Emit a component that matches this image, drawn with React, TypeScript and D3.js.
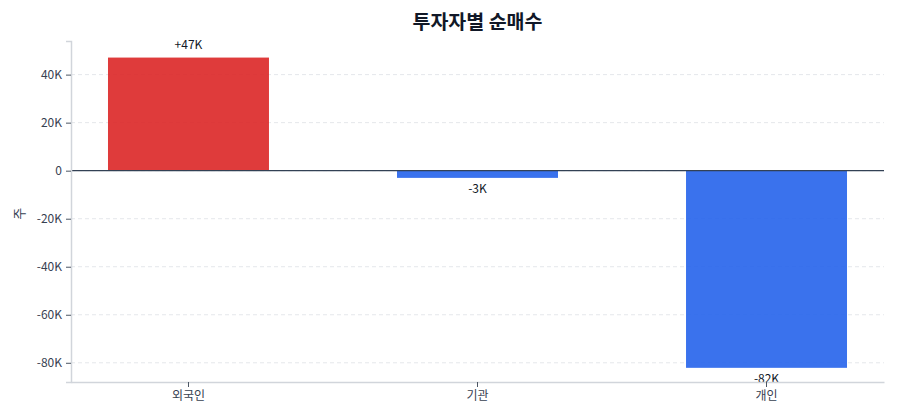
import { useEffect, useRef } from "react";
import * as d3 from "d3";

const investors = ["외국인", "기관", "개인"];
const netBuy = [47100, -3000, -82100];
const valueLabels = ["+47K", "-3K", "-82K"];
const yTicks = [-80000, -60000, -40000, -20000, 0, 20000, 40000];

const FONT = "'Noto Sans CJK KR', 'Noto Sans', sans-serif";

export default function App() {
  const ref = useRef<SVGSVGElement>(null);

  useEffect(() => {
    const svg = d3.select(ref.current);
    svg.selectAll("*").remove();

    const margin = { top: 41, right: 16, bottom: 38, left: 71 };
    const width = 900 - margin.left - margin.right;
    const height = 420 - margin.top - margin.bottom;

    const g = svg
      .append("g")
      .attr("transform", `translate(${margin.left},${margin.top})`);

    const x = d3
      .scaleBand()
      .domain(investors)
      .range([0, width])
      .paddingInner(0.443)
      .paddingOuter(0.128);

    const y = d3.scaleLinear().domain([-88000, 54000]).range([height, 0]);

    // grid lines
    g.append("g")
      .selectAll("line")
      .data(yTicks)
      .enter()
      .append("line")
      .attr("x1", 0)
      .attr("x2", width)
      .attr("y1", (d) => y(d))
      .attr("y2", (d) => y(d))
      .attr("stroke", "#e5e7eb")
      .attr("stroke-dasharray", "4,3");

    // bars
    g.selectAll(".bar")
      .data(netBuy)
      .enter()
      .append("rect")
      .attr("class", "bar")
      .attr("x", (_, i) => x(investors[i]) as number)
      .attr("width", x.bandwidth())
      .attr("y", (d) => y(Math.max(0, d)))
      .attr("height", (d) => Math.abs(y(d) - y(0)))
      .attr("fill", (d) => (d >= 0 ? "#dc2626" : "#2563eb"))
      .attr("opacity", 0.9);

    // zero line
    g.append("line")
      .attr("x1", 0)
      .attr("x2", width)
      .attr("y1", y(0))
      .attr("y2", y(0))
      .attr("stroke", "#334155")
      .attr("stroke-width", 1.2);

    // value labels
    g.selectAll(".val")
      .data(netBuy)
      .enter()
      .append("text")
      .attr("x", (_, i) => (x(investors[i]) as number) + x.bandwidth() / 2)
      .attr("y", (d) => (d >= 0 ? y(d) - 9 : y(d) + 15))
      .attr("text-anchor", "middle")
      .style("font-family", FONT)
      .style("font-size", "12px")
      .style("fill", "#111827")
      .text((_, i) => valueLabels[i]);

    // y axis
    const yAxis = g
      .append("g")
      .call(
        d3
          .axisLeft(y)
          .tickValues(yTicks)
          .tickSize(5)
          .tickPadding(4)
          .tickFormat((d) => {
            const v = d as number;
            return v === 0 ? "0" : `${v / 1000}K`;
          })
      );
    yAxis.select(".domain").attr("stroke", "#d1d5db").attr("stroke-width", 1.5);
    yAxis.selectAll(".tick line").attr("stroke", "#4b5563");
    yAxis
      .selectAll("text")
      .style("font-family", FONT)
      .style("font-size", "12px")
      .style("fill", "#374151");

    // x axis
    const xAxis = g
      .append("g")
      .attr("transform", `translate(0,${height})`)
      .call(d3.axisBottom(x).tickSize(5).tickPadding(4).tickSizeOuter(0));
    xAxis.select(".domain").attr("stroke", "#d1d5db").attr("stroke-width", 1.5);
    xAxis.selectAll(".tick line").attr("stroke", "#4b5563");
    xAxis
      .selectAll("text")
      .style("font-family", FONT)
      .style("font-size", "12px")
      .style("fill", "#374151");

    // y axis label
    g.append("text")
      .attr("transform", "rotate(-90)")
      .attr("x", -(y(-20000) - 5))
      .attr("y", -47)
      .attr("text-anchor", "middle")
      .style("font-family", FONT)
      .style("font-size", "13px")
      .style("fill", "#374151")
      .text("주");

    // title
    svg
      .append("text")
      .attr("x", margin.left + width / 2)
      .attr("y", 29)
      .attr("text-anchor", "middle")
      .style("font-family", FONT)
      .style("font-size", "19.5px")
      .style("font-weight", "700")
      .style("fill", "#111827")
      .text("투자자별 순매수");
  }, []);

  return (
    <svg
      ref={ref}
      width={900}
      height={420}
      style={{ display: "block", position: "absolute", left: 0, top: 0 }}
    />
  );
}
